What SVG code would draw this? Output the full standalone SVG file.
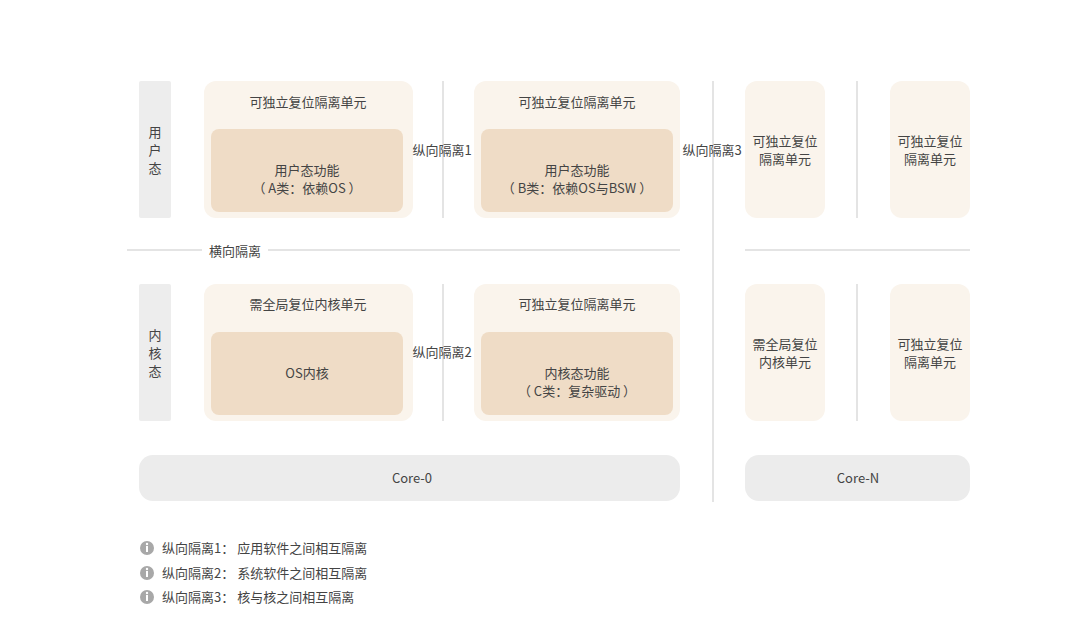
<svg xmlns="http://www.w3.org/2000/svg" width="1080" height="635" viewBox="0 0 1080 635">
<style>
text{font-family:"Noto Sans CJK SC","Noto Sans",sans-serif;font-size:13px;fill:#444;text-anchor:middle}
.side{fill:#ededed}
.outer{fill:#faf4ec}
.inner{fill:#efdcc6}
.core{fill:#ececec}
.ln{stroke:#dcdcdc;stroke-width:1.5;fill:none}
.lg{text-anchor:start}
</style>
<rect width="1080" height="635" fill="#fff"/>
<g id="side-user"><rect class="side" x="139" y="81" width="32" height="137" rx="2"/><text x="155" y="137">用</text><text x="155" y="155">户</text><text x="155" y="173">态</text></g>
<g id="side-kernel"><rect class="side" x="139" y="284" width="32" height="137" rx="2"/><text x="155" y="340">内</text><text x="155" y="358">核</text><text x="155" y="376">态</text></g>
<g id="cellA"><rect class="outer" x="204" y="81" width="209" height="137" rx="12"/><text x="308" y="107">可独立复位隔离单元</text><rect class="inner" x="211" y="129" width="192" height="83" rx="8"/><text x="307" y="175">用户态功能</text><text x="307" y="193">（ A类：依赖OS ）</text></g>
<g id="cellB"><rect class="outer" x="474" y="81" width="206" height="137" rx="12"/><text x="577" y="107">可独立复位隔离单元</text><rect class="inner" x="481" y="129" width="192" height="83" rx="8"/><text x="577" y="175">用户态功能</text><text x="577" y="193">（ B类：依赖OS与BSW ）</text></g>
<g id="cellK"><rect class="outer" x="204" y="284" width="209" height="137" rx="12"/><text x="308" y="309">需全局复位内核单元</text><rect class="inner" x="211" y="332" width="192" height="83" rx="8"/><text x="307" y="378">OS内核</text></g>
<g id="cellC"><rect class="outer" x="474" y="284" width="206" height="137" rx="12"/><text x="577" y="309">可独立复位隔离单元</text><rect class="inner" x="481" y="332" width="192" height="83" rx="8"/><text x="577" y="378">内核态功能</text><text x="577" y="396">（ C类：复杂驱动 ）</text></g>
<g id="r1"><rect class="outer" x="745" y="81" width="80" height="137" rx="12"/><text x="785" y="146">可独立复位</text><text x="785" y="164">隔离单元</text></g>
<g id="r2"><rect class="outer" x="890" y="81" width="80" height="137" rx="12"/><text x="930" y="146">可独立复位</text><text x="930" y="164">隔离单元</text></g>
<g id="r3"><rect class="outer" x="745" y="284" width="80" height="137" rx="12"/><text x="785" y="349">需全局复位</text><text x="785" y="367">内核单元</text></g>
<g id="r4"><rect class="outer" x="890" y="284" width="80" height="137" rx="12"/><text x="930" y="349">可独立复位</text><text x="930" y="367">隔离单元</text></g>
<g id="core0"><rect class="core" x="139" y="455" width="541" height="46" rx="14"/><text x="412" y="483">Core-0</text></g>
<g id="coreN"><rect class="core" x="745" y="455" width="225" height="46" rx="14"/><text x="858" y="483">Core-N</text></g>
<g id="connectors">
<path class="ln" d="M443 81V218M443 284V421M713 81V502M857 81V218M857 284V421M127 250H202M268 250H680M745 250H970"/>
</g>
<g id="labels">
<text x="442" y="155">纵向隔离1</text>
<text x="442" y="357">纵向隔离2</text>
<text x="712" y="155">纵向隔离3</text>
<text x="235" y="256">横向隔离</text>
</g>
<g id="legend">
<circle cx="147" cy="548" r="7" fill="#a8a8a8"/><rect x="146" y="546" width="2" height="6" fill="#fff"/><circle cx="147" cy="544" r="1.2" fill="#fff"/><text class="lg" x="162" y="553">纵向隔离1： 应用软件之间相互隔离</text>
<circle cx="147" cy="573" r="7" fill="#a8a8a8"/><rect x="146" y="571" width="2" height="6" fill="#fff"/><circle cx="147" cy="569" r="1.2" fill="#fff"/><text class="lg" x="162" y="578">纵向隔离2： 系统软件之间相互隔离</text>
<circle cx="147" cy="597" r="7" fill="#a8a8a8"/><rect x="146" y="595" width="2" height="6" fill="#fff"/><circle cx="147" cy="593" r="1.2" fill="#fff"/><text class="lg" x="162" y="602">纵向隔离3： 核与核之间相互隔离</text>
</g>
</svg>
